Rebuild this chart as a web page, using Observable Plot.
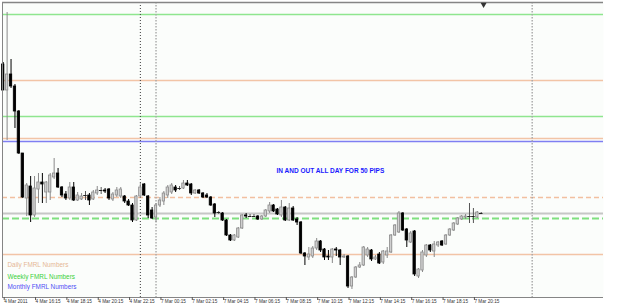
<!DOCTYPE html>
<html>
<head>
<meta charset="utf-8">
<script src="https://cdn.jsdelivr.net/npm/d3@7"></script>
<script src="https://cdn.jsdelivr.net/npm/@observablehq/plot@0.6"></script>
<style>
  html, body { margin: 0; padding: 0; background: #ffffff; }
  #chart { width: 625px; height: 307px; overflow: hidden; }
</style>
</head>
<body>
<div id="chart"></div>
<script>
// ---- M15 candles, 4 Mar 2011 14:15 -> 7 Mar 2011 20:45 ----
const open = [1.3996,1.3970,1.3986,1.3974,1.3949,1.3907,1.3862,1.3874,1.3845,1.3871,1.3878,1.3868,1.3868,1.3883,1.3887,1.3873,1.3866,1.3862,1.3873,1.3860,1.3861,1.3865,1.3865,1.3861,1.3867,1.3870,1.3870,1.3871,1.3861,1.3865,1.3864,1.3864,1.3859,1.3855,1.3840,1.3864,1.3876,1.3864,1.3850,1.3843,1.3855,1.3859,1.3865,1.3868,1.3873,1.3872,1.3872,1.3877,1.3876,1.3867,1.3870,1.3867,1.3865,1.3863,1.3856,1.3848,1.3847,1.3840,1.3825,1.3820,1.3823,1.3832,1.3845,1.3844,1.3844,1.3844,1.3841,1.3844,1.3849,1.3855,1.3851,1.3845,1.3853,1.3840,1.3852,1.3841,1.3838,1.3807,1.3803,1.3804,1.3812,1.3819,1.3811,1.3804,1.3803,1.3811,1.3810,1.3803,1.3804,1.3774,1.3783,1.3793,1.3795,1.3805,1.3810,1.3801,1.3806,1.3798,1.3805,1.3808,1.3825,1.3828,1.3847,1.3831,1.3818,1.3829,1.3784,1.3790,1.3805,1.3815,1.3809,1.3815,1.3819,1.3816,1.3825,1.3830,1.3836,1.3841,1.3843,1.3844,1.3844,1.3843,1.3847];
const high = [1.3998,1.4048,1.4001,1.3976,1.3950,1.3907,1.3877,1.3884,1.3884,1.3887,1.3887,1.3879,1.3887,1.3902,1.3892,1.3874,1.3869,1.3878,1.3878,1.3868,1.3867,1.3869,1.3867,1.3870,1.3874,1.3873,1.3872,1.3872,1.3868,1.3873,1.3873,1.3865,1.3861,1.3857,1.3865,1.3877,1.3877,1.3865,1.3853,1.3857,1.3863,1.3869,1.3875,1.3877,1.3875,1.3874,1.3880,1.3880,1.3877,1.3871,1.3871,1.3868,1.3867,1.3864,1.3857,1.3849,1.3848,1.3841,1.3826,1.3826,1.3833,1.3846,1.3847,1.3846,1.3846,1.3845,1.3845,1.3851,1.3858,1.3856,1.3852,1.3860,1.3854,1.3857,1.3854,1.3843,1.3839,1.3808,1.3813,1.3814,1.3822,1.3820,1.3812,1.3810,1.3812,1.3813,1.3811,1.3806,1.3805,1.3784,1.3794,1.3798,1.3814,1.3813,1.3811,1.3805,1.3808,1.3810,1.3813,1.3826,1.3836,1.3849,1.3848,1.3832,1.3829,1.3830,1.3792,1.3810,1.3816,1.3816,1.3819,1.3819,1.3820,1.3826,1.3832,1.3838,1.3843,1.3845,1.3846,1.3857,1.3852,1.3849,1.3848];
const low = [1.3970,1.3920,1.3972,1.3932,1.3906,1.3862,1.3844,1.3838,1.3843,1.3857,1.3857,1.3857,1.3860,1.3881,1.3872,1.3863,1.3860,1.3860,1.3859,1.3859,1.3860,1.3860,1.3855,1.3860,1.3865,1.3866,1.3867,1.3860,1.3859,1.3863,1.3862,1.3857,1.3854,1.3838,1.3839,1.3862,1.3864,1.3842,1.3841,1.3838,1.3853,1.3855,1.3862,1.3866,1.3868,1.3870,1.3871,1.3874,1.3865,1.3866,1.3866,1.3862,1.3862,1.3854,1.3843,1.3846,1.3839,1.3824,1.3819,1.3819,1.3822,1.3831,1.3842,1.3843,1.3843,1.3840,1.3840,1.3843,1.3847,1.3848,1.3845,1.3843,1.3839,1.3839,1.3839,1.3835,1.3806,1.3795,1.3800,1.3802,1.3810,1.3808,1.3800,1.3800,1.3797,1.3804,1.3795,1.3802,1.3772,1.3771,1.3782,1.3792,1.3794,1.3803,1.3799,1.3800,1.3796,1.3796,1.3802,1.3807,1.3824,1.3827,1.3829,1.3813,1.3817,1.3784,1.3782,1.3788,1.3803,1.3808,1.3803,1.3813,1.3814,1.3815,1.3824,1.3829,1.3835,1.3840,1.3841,1.3837,1.3837,1.3842,1.3846];
const close = [1.3970,1.3986,1.3974,1.3949,1.3907,1.3863,1.3875,1.3845,1.3872,1.3878,1.3876,1.3878,1.3885,1.3887,1.3873,1.3865,1.3862,1.3873,1.3860,1.3865,1.3864,1.3865,1.3860,1.3868,1.3870,1.3870,1.3869,1.3862,1.3866,1.3870,1.3871,1.3859,1.3855,1.3840,1.3864,1.3873,1.3865,1.3845,1.3842,1.3855,1.3860,1.3867,1.3873,1.3875,1.3870,1.3872,1.3877,1.3875,1.3867,1.3870,1.3867,1.3863,1.3863,1.3855,1.3847,1.3848,1.3840,1.3825,1.3820,1.3825,1.3832,1.3845,1.3844,1.3844,1.3844,1.3841,1.3844,1.3850,1.3855,1.3849,1.3846,1.3853,1.3840,1.3852,1.3840,1.3838,1.3807,1.3804,1.3806,1.3812,1.3819,1.3810,1.3803,1.3803,1.3811,1.3810,1.3803,1.3804,1.3774,1.3783,1.3793,1.3795,1.3813,1.3811,1.3801,1.3803,1.3797,1.3809,1.3809,1.3825,1.3835,1.3847,1.3830,1.3820,1.3827,1.3786,1.3791,1.3808,1.3815,1.3810,1.3816,1.3818,1.3815,1.3825,1.3831,1.3837,1.3842,1.3844,1.3844,1.3844,1.3844,1.3848,1.3847];

// ---- bottom time axis (every 8 bars = 2 hours) ----
const tickBars = [0,8,16,24,32,40,48,56,64,72,80,88,96,104,112,120];
const tickLabels = ["4 Mar 2011","4 Mar 16:15","4 Mar 18:15","4 Mar 20:15","4 Mar 22:15","7 Mar 00:15","7 Mar 02:15","7 Mar 04:15","7 Mar 06:15","7 Mar 08:15","7 Mar 10:15","7 Mar 12:15","7 Mar 14:15","7 Mar 16:15","7 Mar 18:15","7 Mar 20:15"];

// ---- FMRL levels ----
const levelPrices = [1.4046, 1.3980, 1.3944, 1.3922, 1.3919, 1.3863, 1.3842, 1.3806];
const levelKinds  = ["Weekly","Daily","Weekly","Daily","Monthly","Daily","Weekly","Daily"];
const levelDashed = [false, false, false, false, false, true, true, false];
const bidPrice = 1.3847;

// ---- vertical lines (bar positions) ----
const userLineBar = [35];
const daySeparatorBars = [39, 135];
const shiftMarkerBar = 122.6;

// ---- texts ----
const noteText = "IN AND OUT ALL DAY FOR 50 PIPS";
const noteBar = 83.5, notePrice = 1.3890;
const legendNames = ["Daily FMRL Numbers","Weekly FMRL Numbers","Monthly FMRL Numbers"];

const kindColor = {Daily: "#f2c4a6", Weekly: "#8fe68f", Monthly: "#7f7ff2"};
const legendColor = {Daily: "#e5b795", Weekly: "#3ad13a", Monthly: "#4f4ff5"};

const xDomain = [-0.18, 153.2];
const yDomain = [1.3763, 1.4058];

const candles = open.map((o, i) => ({i, o, h: high[i], l: low[i], c: close[i]}));
const bull = candles.filter(d => d.c > d.o);
const bear = candles.filter(d => d.c < d.o);
const doji = candles.filter(d => d.c === d.o);
const levels = levelPrices.map((p, k) => ({p, kind: levelKinds[k], dashed: levelDashed[k]}));
const bw = 0.3;

const marks = [
  Plot.frame({fill: "#fbfdfb", stroke: "none"}),
  Plot.ruleY([bidPrice], {stroke: "#c6c6c6", strokeWidth: 2}),
];
for (const kind of ["Daily","Weekly","Monthly"]) {
  marks.push(Plot.ruleY(levels.filter(d => d.kind === kind && !d.dashed), {y: "p", stroke: kindColor[kind], strokeWidth: 1.3}));
}
marks.push(Plot.ruleY(levels.filter(d => d.kind === "Daily" && d.dashed), {y: "p", stroke: "#f2c0a0", strokeWidth: 1.3, strokeDasharray: "5,3"}));
marks.push(Plot.ruleY(levels.filter(d => d.kind === "Weekly" && d.dashed), {y: "p", stroke: "#7fe07f", strokeWidth: 1.8, strokeDasharray: "7,3"}));
marks.push(
  Plot.ruleX(userLineBar, {x: d => d, stroke: "#3c3c3c", strokeWidth: 1, strokeDasharray: "1,2"}),
  Plot.ruleX(daySeparatorBars, {x: d => d, stroke: "#a8a8a8", strokeWidth: 1.4, strokeDasharray: "1.5,1.5"}),
  // wicks
  Plot.ruleX(bull, {x: "i", y1: "l", y2: "h", stroke: "#8a8a8a", strokeWidth: 1}),
  Plot.ruleX(bear, {x: "i", y1: "l", y2: "h", stroke: "#000000", strokeWidth: 1}),
  Plot.ruleX(doji, {x: "i", y1: "l", y2: "h", stroke: "#555555", strokeWidth: 1}),
  // bodies
  Plot.rect(bull, {x1: d => d.i - bw, x2: d => d.i + bw, y1: "o", y2: "c", fill: "#cfcfcf", stroke: "#8a8a8a", strokeWidth: 0.8}),
  Plot.rect(bear, {x1: d => d.i - bw, x2: d => d.i + bw, y1: "o", y2: "c", fill: "#000000", stroke: "#000000", strokeWidth: 0.8}),
  Plot.ruleY(doji, {y: "c", x1: d => d.i - 0.45, x2: d => d.i + 0.45, stroke: "#222222", strokeWidth: 1}),
  // frame lines
  Plot.ruleY([yDomain[1]], {stroke: "#858585", strokeWidth: 1.5}),
  Plot.ruleY([yDomain[0]], {stroke: "#858585", strokeWidth: 1}),
  Plot.ruleX([xDomain[0]], {stroke: "#858585", strokeWidth: 1}),
  // chart shift marker
  Plot.dot([shiftMarkerBar], {x: d => d, y: yDomain[1] - 0.0002, symbol: "triangle", rotate: 180, r: 2.2, fill: "#333333", stroke: "none"}),
  // annotation
  Plot.text([noteText], {x: noteBar, y: notePrice, text: d => d, fill: "#1a1aff", fontWeight: "bold", fontSize: 6.5}),
  // legend
  Plot.text([legendNames[0]], {frameAnchor: "bottom-left", dx: 5, dy: -30.5, text: d => d, textAnchor: "start", fill: legendColor.Daily, fontSize: 6.4}),
  Plot.text([legendNames[1]], {frameAnchor: "bottom-left", dx: 5, dy: -19, text: d => d, textAnchor: "start", fill: legendColor.Weekly, fontSize: 6.4}),
  Plot.text([legendNames[2]], {frameAnchor: "bottom-left", dx: 5, dy: -8.8, text: d => d, textAnchor: "start", fill: legendColor.Monthly, fontSize: 6.4}),
  // x axis
  Plot.axisX(tickBars, {tickSize: 3, tickPadding: -1, textAnchor: "start", dx: 1, fontSize: 4.7, stroke: "#555555", fill: "#333333",
    label: null, tickFormat: d => tickLabels[tickBars.indexOf(d)]})
);

const chart = Plot.plot({
  width: 625,
  height: 307,
  marginLeft: 2,
  marginRight: 22,
  marginTop: 2,
  marginBottom: 10,
  x: {type: "linear", domain: xDomain, label: null},
  y: {type: "linear", domain: yDomain, axis: null},
  style: {background: "#ffffff", fontFamily: "'Liberation Sans', Arial, sans-serif", overflow: "visible"},
  marks
});
document.getElementById("chart").appendChild(chart);
</script>
</body>
</html>
